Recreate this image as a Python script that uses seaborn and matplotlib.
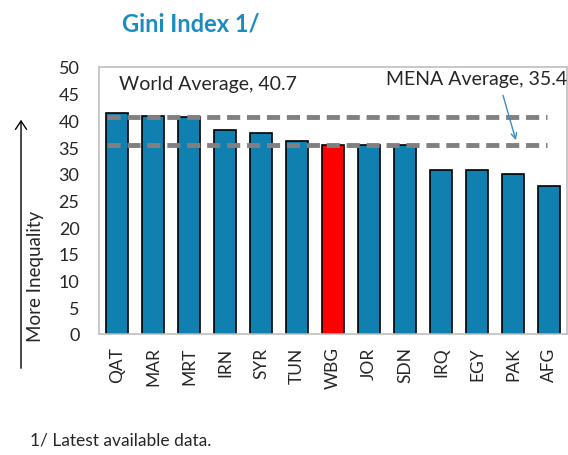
import matplotlib
matplotlib.use("Agg")
import matplotlib.pyplot as plt
import seaborn as sns
import pandas as pd
from matplotlib.ticker import FixedLocator

# data
countries = ['QAT', 'MAR', 'MRT', 'IRN', 'SYR', 'TUN', 'WBG', 'JOR', 'SDN', 'IRQ', 'EGY', 'PAK', 'AFG']
gini = [41.3, 40.8, 40.6, 38.2, 37.7, 36.1, 35.3, 35.4, 35.3, 30.8, 30.8, 29.9, 27.8]
world_avg = 40.7
mena_avg = 35.4

df = pd.DataFrame({'Country': countries, 'Gini': gini})
blue = '#1080B0'
palette = {c: ('#FF0000' if c == 'WBG' else blue) for c in countries}

sns.set_style("white")
plt.rcParams['font.family'] = ['Lato', 'DejaVu Sans']

fig = plt.figure(figsize=(5.68, 4.56), dpi=100)
ax = fig.add_axes([0.1743, 0.2654, 0.824, 0.5855])

sns.barplot(data=df, x='Country', y='Gini', hue='Country', palette=palette, saturation=1,
            legend=False, width=0.62, edgecolor='black', linewidth=1.2, ax=ax, zorder=2)

# average lines
ax.hlines([world_avg, mena_avg], -0.27, 11.95, colors='#808080', linestyles=(0, (2.7, 1.4)),
          linewidth=3.5, zorder=3)

ax.set_xlim(-0.5, 12.5)
ax.set_ylim(0, 50)
ax.set_yticks(range(0, 51, 5))
ax.set_xlabel('')
ax.set_ylabel('')
ax.tick_params(axis='y', labelsize=13, direction='in', length=7, color='#bfbfbf', pad=14)
ax.tick_params(axis='x', labelsize=12.5, length=0, labelrotation=90, pad=9)
ax.xaxis.set_minor_locator(FixedLocator([i + 0.5 for i in range(12)]))
ax.tick_params(axis='x', which='minor', direction='in', length=5, color='#bfbfbf')
for s in ax.spines.values():
    s.set_color('#bfbfbf')
    s.set_linewidth(1.2)

ax.text(0.05, 47.0, 'World Average, 40.7', fontsize=14, va='center', ha='left', zorder=4)
ax.text(12.5, 47.9, 'MENA Average, 35.4', fontsize=14, va='center', ha='right', zorder=4)
ax.annotate('', xy=(11.1, 35.8), xytext=(10.7, 45.2),
            arrowprops=dict(arrowstyle='->', color='#3A8CC8', lw=1.0), zorder=4)

# title, footnote and axis arrow
fig.text(0.215, 0.947, 'Gini Index 1/', fontsize=17, fontweight='bold', color='#1A8CC0',
         ha='left', va='center')
fig.text(0.053, 0.033, '1/ Latest available data.', fontsize=12.5, ha='left', va='center')
fig.text(0.063, 0.393, 'More Inequality', fontsize=13.5, rotation=90, ha='center', va='center')
fig.add_artist(matplotlib.patches.FancyArrowPatch((0.037, 1 - 372 / 456), (0.037, 1 - 118 / 456),
               transform=fig.transFigure, arrowstyle='->,head_length=6,head_width=4',
               color='black', lw=1.0))

fig.savefig('out.png', dpi=100)
